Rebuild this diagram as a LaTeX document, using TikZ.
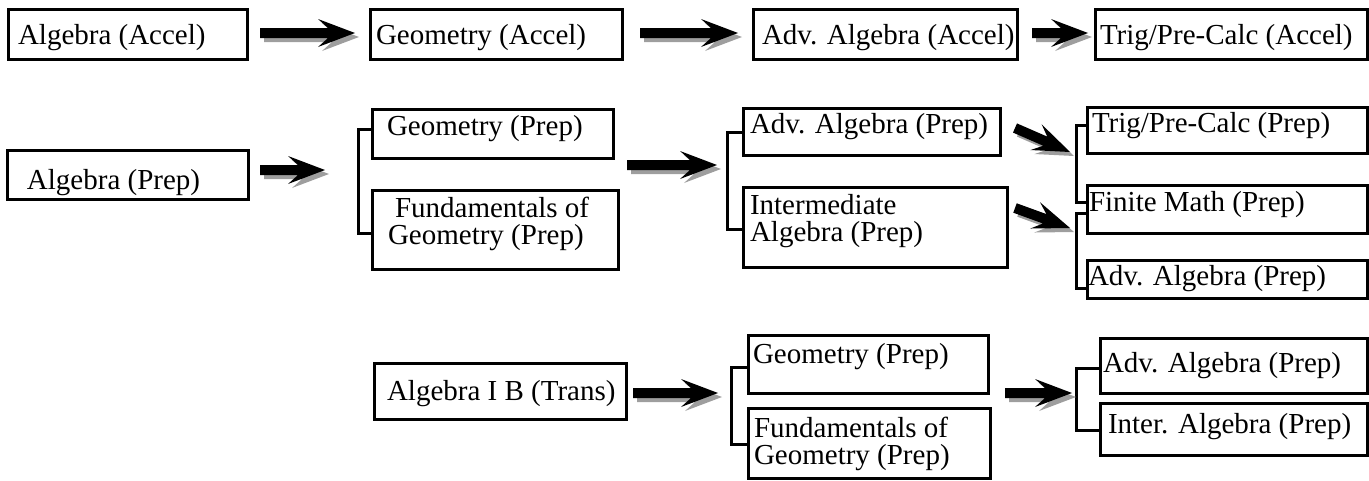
\documentclass[tikz,border=0pt]{standalone}
\usepackage{fontspec}
\setmainfont{Liberation Serif}
\usetikzlibrary{calc}
% box text: width, height, left pad, first baseline from top, text
\newcommand\bt[5]{\parbox[c][#2pt][t]{#1pt}{\raggedright\leftskip=#3pt\relax\rule{0pt}{#4pt}#5}}
\tikzset{
  bx/.style={draw, line width=3pt, inner sep=0pt, outer sep=0pt, anchor=north west,
    font=\fontsize{29}{27}\selectfont},
  brk/.style={draw, line width=3pt},
  pics/barrow/.style={code={
    \fill[pic actions] (0,-5) -- (#1-27,-5) -- (#1-37,-14) -- (#1,0) -- (#1-37,14) -- (#1-27,5) -- (0,5) -- cycle;
  }},
}
\newcommand\barr[2]{%
  \path let \p1=(#1), \p2=(#2), \n1={atan2(\y2-\y1,\x2-\x1)}, \n2={veclen(\x2-\x1,\y2-\y1)} in
    \pgfextra{\pgfmathsetmacro\barang{\n1}\global\let\barang\barang\pgfmathsetmacro\barlen{\n2}\global\let\barlen\barlen};
  \pic[rotate=\barang, fill=black!38] at ($(#1)+(4,4)$) {barrow=\barlen};
  \pic[rotate=\barang, fill=black] at (#1) {barrow=\barlen};
}
\begin{document}
\begin{tikzpicture}[x=1pt, y=-1pt]
\useasboundingbox (0,0) rectangle (1369,480);
% row 1
\node[bx] (a1) at (8,9)    {\bt{239}{50}{10}{35}{Algebra (Accel)}};
\node[bx] (g1) at (370,9)  {\bt{252}{50}{6}{35}{Geometry (Accel)}};
\node[bx] (v1) at (753,9)  {\bt{264}{50}{9}{35}{Adv. Algebra (Accel)}};
\node[bx] (t1) at (1095,9) {\bt{272}{50}{5}{35}{Trig/Pre-Calc (Accel)}};
% row 2
\node[bx] (a2)   at (7,150)    {\bt{241}{49}{20}{39}{Algebra (Prep)}};
\node[bx] (geo2) at (372,109)  {\bt{241}{49}{15}{26}{Geometry (Prep)}};
\node[bx] (fun2) at (372,190)  {\bt{246}{79}{16}{27}{\hspace*{7pt}Fundamentals of\\Geometry (Prep)}};
\node[bx] (adv2) at (743,108)  {\bt{257}{47}{7}{25}{Adv. Algebra (Prep)}};
\node[bx] (int2) at (743,187)  {\bt{264}{80}{7}{27}{Intermediate\\Algebra (Prep)}};
\node[bx] (trig2) at (1087,107) {\bt{280}{46}{5}{25}{Trig/Pre-Calc (Prep)}};
\node[bx] (fin2) at (1087,185) {\bt{280}{48}{2}{26}{Finite Math (Prep)}};
\node[bx] (adv3) at (1087,260) {\bt{280}{38}{1}{25}{Adv. Algebra (Prep)}};
% row 3
\node[bx] (aib)  at (374,363)  {\bt{252}{56}{13}{37}{Algebra I B (Trans)}};
\node[bx] (geo3) at (748,335)  {\bt{240}{58}{5}{28}{Geometry (Prep)}};
\node[bx] (fun3) at (748,408)  {\bt{242}{70}{6}{29}{Fundamentals of\\Geometry (Prep)}};
\node[bx] (adv4) at (1100,338) {\bt{267}{55}{3}{34}{Adv. Algebra (Prep)}};
\node[bx] (int3) at (1100,403) {\bt{267}{52}{8}{30}{Inter. Algebra (Prep)}};
% brackets
\draw[brk] ($(geo2.north west)+(0,20)$) -- ++(-14,0) |- ($(fun2.north west)+(0,43)$);
\coordinate (b1) at ($(geo2.north west)+(-14,61)$);
\draw[brk] ($(adv2.north west)+(0,24)$) -- ++(-16,0) |- ($(int2.north west)+(0,42)$);
\coordinate (b2) at ($(adv2.north west)+(-16,57)$);
\draw[brk] ($(trig2.north west)+(0,18)$) -- ++(-11,0) |- ($(fin2.north west)+(0,17)$);
\coordinate (b3) at ($(trig2.north west)+(-11,45)$);
\draw[brk] ($(fin2.north west)+(0,28)$) -- ++(-11,0) |- ($(adv3.north west)+(0,28)$);
\coordinate (b4) at ($(fin2.north west)+(-11,43)$);
\draw[brk] ($(geo3.north west)+(0,32)$) -- ++(-17,0) |- ($(fun3.north west)+(0,36)$);
\coordinate (b5) at ($(geo3.north west)+(-17,58)$);
\draw[brk] ($(adv4.north west)+(0,30)$) -- ++(-24,0) |- ($(int3.north west)+(0,27)$);
\coordinate (b6) at ($(adv4.north west)+(-24,55)$);
% block arrows
\barr{$(a1.east)+(13,-1)$}{$(g1.west)+(-15,-1)$}
\barr{$(g1.east)+(18,-1)$}{$(v1.west)+(-15,-1)$}
\barr{$(v1.east)+(15,-1)$}{$(t1.west)+(-7,-1)$}
\barr{$(a2.east)+(12,-4.5)$}{$(b1)+(-33,0)$}
\barr{$(fun2.east |- b2)+(9,0)$}{$(b2)+(-10,0)$}
\barr{$(adv2.east)+(15,-3.5)$}{$(b3)+(-6,0)$}
\barr{$(int2.east)+(8,-19)$}{$(b4)+(-6,0)$}
\barr{$(aib.east)+(7,2)$}{$(b5)+(-13,0)$}
\barr{$(geo3.south east)+(17,0)$}{$(b6)+(-4,0)$}
\end{tikzpicture}
\end{document}
